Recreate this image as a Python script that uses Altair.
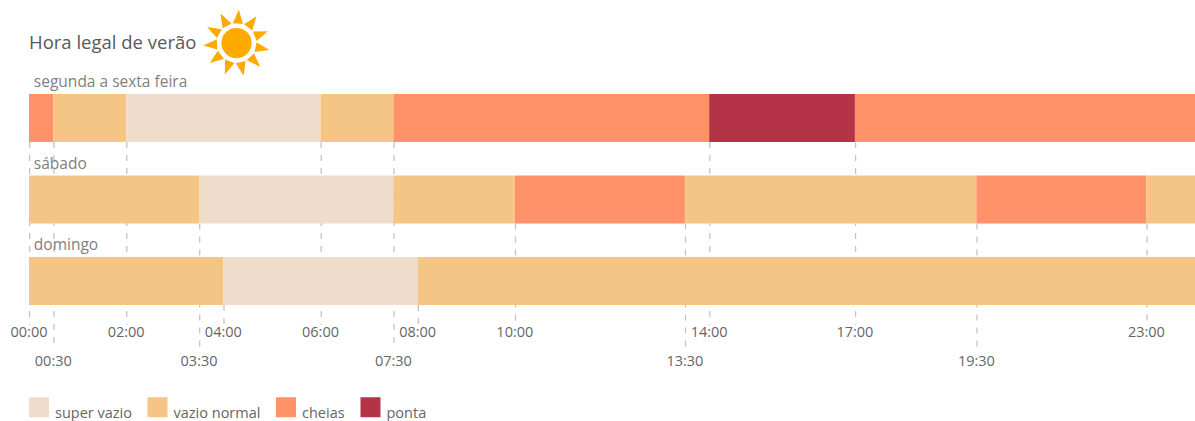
import math

import altair as alt
import pandas as pd

# Tariff periods per day type: (start hour, end hour, period)
DAYS = ["segunda a sexta feira", "sábado", "domingo"]
WEEKDAY = [
    (0, 0.5, "cheias"), (0.5, 2, "vazio normal"), (2, 6, "super vazio"),
    (6, 7.5, "vazio normal"), (7.5, 14, "cheias"), (14, 17, "ponta"), (17, 24, "cheias"),
]
SATURDAY = [
    (0, 3.5, "vazio normal"), (3.5, 7.5, "super vazio"), (7.5, 10, "vazio normal"),
    (10, 13.5, "cheias"), (13.5, 19.5, "vazio normal"), (19.5, 23, "cheias"),
    (23, 24, "vazio normal"),
]
SUNDAY = [(0, 4, "vazio normal"), (4, 8, "super vazio"), (8, 24, "vazio normal")]

PERIODS = ["super vazio", "vazio normal", "cheias", "ponta"]
PERIOD_COLORS = ["#EFDCCB", "#F5C586", "#FF9269", "#B43347"]

# Time marks: (hour, label, first day row the guide hangs from, label tier)
TIME_MARKS = [
    (0, "00:00", "segunda a sexta feira", "upper"),
    (0.5, "00:30", "segunda a sexta feira", "lower"),
    (2, "02:00", "segunda a sexta feira", "upper"),
    (3.5, "03:30", "sábado", "lower"),
    (4, "04:00", "domingo", "upper"),
    (6, "06:00", "segunda a sexta feira", "upper"),
    (7.5, "07:30", "segunda a sexta feira", "lower"),
    (8, "08:00", "domingo", "upper"),
    (10, "10:00", "sábado", "upper"),
    (13.5, "13:30", "sábado", "lower"),
    (14, "14:00", "segunda a sexta feira", "upper"),
    (17, "17:00", "segunda a sexta feira", "upper"),
    (19.5, "19:30", "sábado", "lower"),
    (23, "23:00", "sábado", "upper"),
]

SUN_RAYS = 11
TEXT_FONT = "Open Sans"

rows = [
    {"day": day, "start": s, "end": e, "period": p}
    for day, spans in zip(DAYS, [WEEKDAY, SATURDAY, SUNDAY])
    for s, e, p in spans
]
segments = pd.DataFrame(rows)
marks = pd.DataFrame(TIME_MARKS, columns=["hour", "label", "row", "tier"])
days = pd.DataFrame({"day": DAYS, "hour": [0.1] * len(DAYS)})

x_scale = alt.Scale(domain=[0, 24], range=[29, 1195], nice=False, zero=False)
y_scale = alt.Scale(domain=DAYS, range=[94, 305], paddingInner=0.413, paddingOuter=0)
x_enc = alt.X("hour:Q", scale=x_scale, axis=None)

bars = alt.Chart(segments).mark_bar(stroke=None, cornerRadius=0).encode(
    x=alt.X("start:Q", scale=x_scale, axis=None),
    x2="end:Q",
    y=alt.Y("day:N", scale=y_scale, axis=None, sort=DAYS),
    color=alt.Color(
        "period:N",
        scale=alt.Scale(domain=PERIODS, range=PERIOD_COLORS),
        legend=alt.Legend(
            title=None, orient="none", legendX=29, legendY=397, direction="horizontal",
            symbolType="square", symbolSize=400, symbolStrokeWidth=0, symbolOpacity=1,
            labelFont=TEXT_FONT, labelFontSize=14.5, labelColor="#666666", labelOffset=6,
            labelBaseline="top", columnPadding=15.5, padding=0,
        ),
    ),
)


def guides(tier, bottom):
    # Nudged right so the midnight guide stays hidden behind the bars' left edge
    return alt.Chart(marks).transform_filter(alt.datum.tier == tier).mark_rule(
        color="#C4C4C4", strokeWidth=1.3, strokeDash=[6, 7], xOffset=0.65
    ).encode(
        x=x_enc,
        y=alt.Y("row:N", scale=y_scale, axis=None, bandPosition=1, sort=DAYS),
        y2=alt.value(bottom),
    )


def time_labels(tier, y):
    return alt.Chart(marks).transform_filter(alt.datum.tier == tier).mark_text(
        font=TEXT_FONT, fontSize=14.5, color="#666666", baseline="middle"
    ).encode(x=x_enc, y=alt.value(y), text="label:N")


day_labels = alt.Chart(days).mark_text(
    font=TEXT_FONT, fontSize=15.5, color="#7F7F7F", align="left", baseline="middle", yOffset=-36
).encode(x=x_enc, y=alt.Y("day:N", scale=y_scale, axis=None, sort=DAYS), text="day:N")

title = alt.Chart(pd.DataFrame({"t": ["Hora legal de verão"]})).mark_text(
    font=TEXT_FONT, fontSize=18.5, color="#595959", align="left", baseline="middle"
).encode(x=alt.value(29), y=alt.value(43), text="t:N")

# Sun decoration: a ring of pointed rays behind a white-edged disc
SUN_X, SUN_Y = 236.5, 43
ray_rows = []
for i in range(SUN_RAYS):
    angle = 4 + i * 360 / SUN_RAYS
    rad = math.radians(angle)
    ray_rows.append({"px": SUN_X + 26.5 * math.sin(rad), "py": SUN_Y - 26.5 * math.cos(rad), "angle": angle})
rays = alt.Chart(pd.DataFrame(ray_rows)).mark_point(
    shape="M-0.36,0.5L0,-0.5L0.36,0.5Z", filled=True, color="#FFAA00", opacity=1, size=784, strokeWidth=0
).encode(
    x=alt.X("px:Q", scale=None), y=alt.Y("py:Q", scale=None),
    angle=alt.Angle("angle:Q", scale=None),
)
disc = alt.Chart(pd.DataFrame({"px": [SUN_X], "py": [SUN_Y]})).mark_circle(
    color="#FFAA00", opacity=1, size=1040, stroke="#FFFFFF", strokeWidth=2
).encode(x=alt.X("px:Q", scale=None), y=alt.Y("py:Q", scale=None))

chart = alt.layer(
    guides("upper", 325), guides("lower", 350), bars,
    time_labels("upper", 333), time_labels("lower", 362),
    day_labels, title, rays, disc,
).resolve_scale(color="shared").properties(
    width=1195, height=421, padding=0, autosize=alt.AutoSizeParams(type="none"),
    background="#FFFFFF",
).configure_view(stroke=None)

chart.save("out.html", embed_options={"renderer": "svg", "actions": False})
